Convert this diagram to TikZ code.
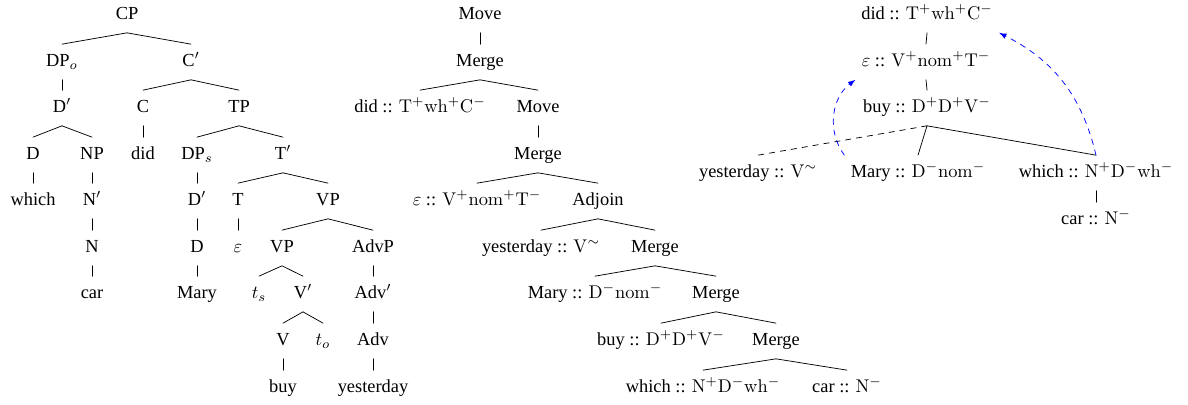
\documentclass[tikz,border=0pt]{standalone}
\usepackage[no-math]{fontspec}
\setmainfont{Liberation Serif}
\begin{document}
\begin{tikzpicture}[x=0.0191cm,y=-0.0191cm,>=latex,line join=round,line cap=round,
	every node/.style={text height=6.5pt,text depth=1.5pt,inner xsep=3.3pt,inner ysep=5.5pt},
	move/.style={blue,dashed,->}]
	\useasboundingbox (0,0) rectangle (1188,405);
	\node (cp) at (127,15) {CP};
	\node (dpo) at (62,62) {DP$_o$}; \node (cb) at (191,62) {C$'$};
	\node (db1) at (62,108) {D$'$}; \node (c) at (143,108) {C}; \node (tp) at (239,108) {TP};
	\node (d1) at (33,155) {D}; \node (np) at (92,155) {NP}; \node (did) at (143,155) {did};
	\node (dps) at (197,155) {DP$_s$}; \node (tb) at (283,155) {T$'$};
	\node (which) at (33,201) {which}; \node (nb) at (92,201) {N$'$}; \node (db2) at (197,201) {D$'$};
	\node (t) at (238,201) {T}; \node (vp1) at (328,201) {VP};
	\node (n) at (92,248) {N}; \node (d2) at (197,248) {D}; \node (eps) at (238,248) {$\varepsilon$};
	\node (vp2) at (282,248) {VP}; \node (advp) at (373,248) {AdvP};
	\node (car) at (92,294) {car}; \node (mary) at (197,294) {Mary}; \node (ts) at (259,294) {$t_s$};
	\node (vb) at (303,294) {V$'$}; \node (advb) at (373,294) {Adv$'$};
	\node (v) at (283,341) {V}; \node (to) at (323,341) {$t_o$}; \node (adv) at (373,341) {Adv};
	\node (buy) at (283,388) {buy}; \node (yest) at (373,388) {yesterday};
	\foreach \a/\b in {cp/dpo,cp/cb,dpo/db1,cb/c,cb/tp,db1/d1,db1/np,c/did,tp/dps,tp/tb,d1/which,np/nb,
		dps/db2,tb/t,tb/vp1,nb/n,db2/d2,t/eps,vp1/vp2,vp1/advp,n/car,d2/mary,vp2/ts,vp2/vb,advp/advb,
		vb/v,vb/to,advb/adv,v/buy,adv/yest}
		\draw (\a.south)--(\b.north);
	\node (mmove1) at (480,15) {Move};
	\node (mmerge1) at (480,62) {Merge};
	\node (mdid) at (420,108) {did :: $\mathrm{T^+wh^+C^-}$}; \node (mmove2) at (538,108) {Move};
	\node (mmerge2) at (538,155) {Merge};
	\node (meps) at (477,201) {$\varepsilon$ :: $\mathrm{V^+nom^+T^-}$}; \node (madj) at (598,201) {Adjoin};
	\node (myest) at (541,248) {yesterday :: $\mathrm{V}^\sim$}; \node (mmerge3) at (655,248) {Merge};
	\node (mmary) at (595,294) {Mary :: $\mathrm{D^-nom^-}$}; \node (mmerge4) at (716,294) {Merge};
	\node (mbuy) at (661,341) {buy :: $\mathrm{D^+D^+V^-}$}; \node (mmerge5) at (776,341) {Merge};
	\node (mwhich) at (703,388) {which :: $\mathrm{N^+D^-wh^-}$}; \node (mcar) at (847,388) {car :: $\mathrm{N^-}$};
	\foreach \a/\b in {mmove1/mmerge1,mmerge1/mdid,mmerge1/mmove2,mmove2/mmerge2,mmerge2/meps,mmerge2/madj,
		madj/myest,madj/mmerge3,mmerge3/mmary,mmerge3/mmerge4,mmerge4/mbuy,mmerge4/mmerge5,
		mmerge5/mwhich,mmerge5/mcar}
		\draw (\a.south)--(\b.north);
	\node (xdid) at (927,15) {did :: $\mathrm{T^+wh^+C^-}$};
	\node (xeps) at (926,62) {$\varepsilon$ :: $\mathrm{V^+nom^+T^-}$};
	\node (xbuy) at (927,108) {buy :: $\mathrm{D^+D^+V^-}$};
	\node (xyest) at (758,173) {yesterday :: $\mathrm{V}^\sim$};
	\node (xmary) at (918,173) {Mary :: $\mathrm{D^-nom^-}$};
	\node (xwhich) at (1096,173) {which :: $\mathrm{N^+D^-wh^-}$};
	\node (xcar) at (1096,220) {car :: $\mathrm{N^-}$};
	\foreach \a/\b in {xdid/xeps,xeps/xbuy,xbuy/xmary,xbuy/xwhich,xwhich/xcar}
		\draw (\a.south)--(\b.north);
	\draw[dashed] (xbuy.south)--(xyest.north);
	\draw[move] (xmary.north west) to[bend left=45] (xeps.south west);
	\draw[move] (xwhich.north) to[bend right=25] (xdid.south east);
\end{tikzpicture}
\end{document}
